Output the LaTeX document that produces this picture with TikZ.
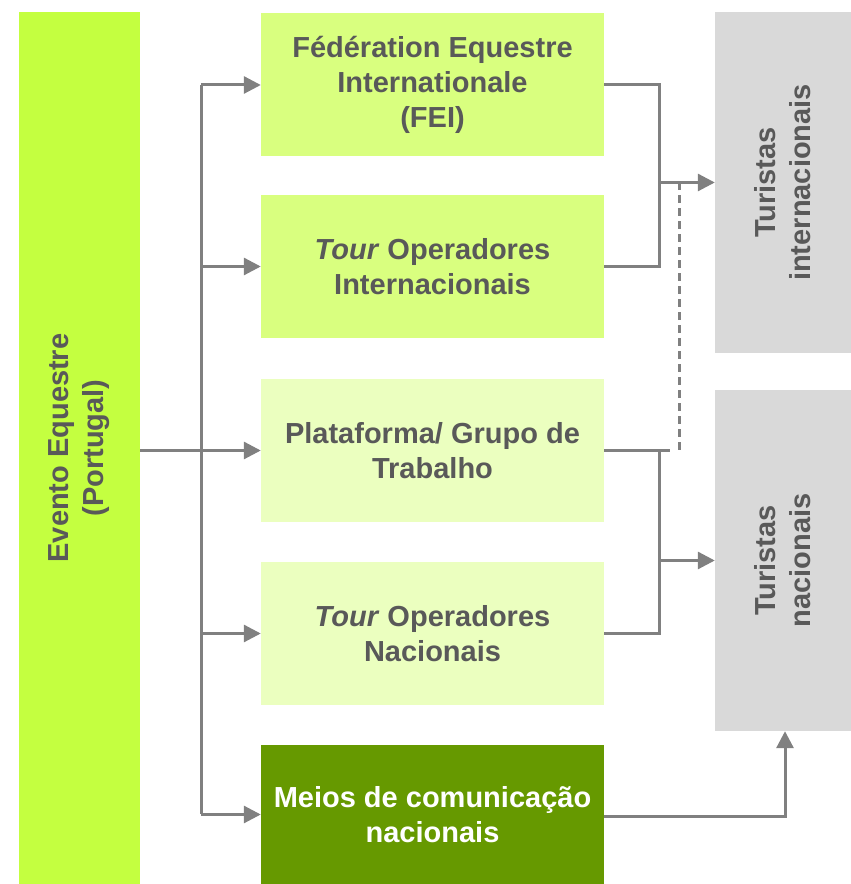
\documentclass[tikz,border=0pt]{standalone}
\usepackage{fontspec}
\setmainfont{Liberation Sans}
\usetikzlibrary{arrows.meta}
\definecolor{limeA}{RGB}{196,255,64}
\definecolor{limeB}{RGB}{217,255,127}
\definecolor{limeC}{RGB}{235,255,191}
\definecolor{greenD}{RGB}{102,153,0}
\definecolor{greyBox}{RGB}{217,217,217}
\definecolor{txt}{RGB}{89,89,89}
\definecolor{ln}{RGB}{128,128,128}
\tikzset{
  box/.style={inner sep=0pt, align=center, text=txt,
    font=\fontsize{29}{35}\selectfont\bfseries},
  midbox/.style={box, minimum width=343pt, minimum height=143pt},
  conn/.style={draw=ln, line width=3pt},
  arr/.style={conn, -{Triangle[length=17pt,width=17pt]}},
  dashconn/.style={draw=ln, line width=3pt, dash pattern=on 8pt off 5pt},
}
\begin{document}
\begin{tikzpicture}[x=1pt,y=1pt]
\useasboundingbox (0,0) rectangle (851,884);
% boxes
\node[box, fill=limeA, rotate=90, minimum width=872pt, minimum height=121pt] (ev) at (79.5,436) {Evento Equestre\\(Portugal)};
\node[midbox, fill=limeB] (m1) at (432.5,799) {Fédération Equestre\\Internationale\\(FEI)};
\node[midbox, fill=limeB] (m2) at (432.5,617.5) {\textit{Tour} Operadores\\Internacionais};
\node[midbox, fill=limeC] (m3) at (432.5,433.5) {Plataforma/ Grupo de\\Trabalho};
\node[midbox, fill=limeC] (m4) at (432.5,250.5) {\textit{Tour} Operadores\\Nacionais};
\node[midbox, fill=greenD, text=white, minimum height=139pt] (m5) at (432.5,69.5) {Meios de comunicação\\nacionais};
\node[box, fill=greyBox, rotate=90, minimum width=341pt, minimum height=136pt] (r1) at (783,701.5) {Turistas\\internacionais};
\node[box, fill=greyBox, rotate=90, minimum width=341pt, minimum height=136pt] (r2) at (783,323.5) {Turistas\\nacionais};
% helper columns
\coordinate (tx) at (201,0);
\coordinate (bx) at (659,0);
\coordinate (dx) at (679,0);
\coordinate (ex) at (670,0);
\coordinate (ux) at (785,0);
% left connectors
\draw[arr] (ev.south |- m3.west) -- (m3.west);
\draw[conn] (m1.west -| tx) -- (m5.west -| tx);
\draw[arr] (m1.west -| tx) -- (m1.west);
\draw[arr] (m2.west -| tx) -- (m2.west);
\draw[arr] (m4.west -| tx) -- (m4.west);
\draw[arr] (m5.west -| tx) -- (m5.west);
% right connectors, international
\draw[conn] (m1.east) -- (m1.east -| bx) -- (m2.east -| bx) -- (m2.east);
\draw[arr] (r1.north -| bx) -- (r1.north);
\draw[dashconn] (r1.north -| dx) -- ([yshift=-1pt]m3.east -| dx);
% national
\draw[conn] (m3.east) -- (m3.east -| ex);
\draw[conn] (m3.east -| bx) -- (m4.east -| bx) -- (m4.east);
\draw[arr] (r2.north -| bx) -- (r2.north);
\draw[arr] ([yshift=-2pt]m5.east) -| (r2.west -| ux);
\end{tikzpicture}
\end{document}
